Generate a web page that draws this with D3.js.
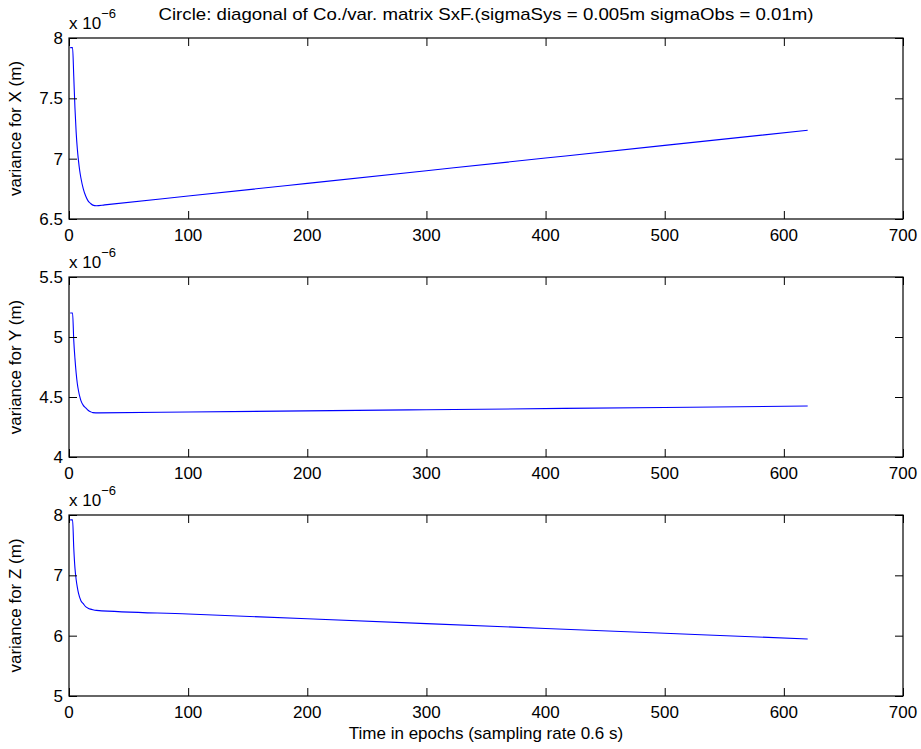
<!DOCTYPE html>
<html lang="en">

<head>
  <meta charset="utf-8">
  <script src="https://d3js.org/d3.v7.min.js"></script>
  <style>
    body {
      margin: 0;
      background: white;
    }

    text {
      font-family: "Liberation Sans", Arial, Helvetica, sans-serif;
      fill: black;
    }

    .tick-label {
      font-size: 17px;
    }

    .title,
    .label {
      font-size: 17px;
    }

    .expo {
      font-size: 17px;
    }
  </style>
</head>

<body>
  <script>
    // data (values in units of 1e-6 m)
    var epochsX = [1, 3, 4, 5, 6, 7, 8, 9, 10, 12, 14, 16, 18, 20, 23, 30, 100, 200, 300, 400, 500, 620];
    var varX = [7.92, 7.92, 7.68, 7.42, 7.22, 7.08, 6.98, 6.90, 6.84, 6.75, 6.69, 6.65, 6.63, 6.615, 6.61, 6.617, 6.69, 6.795, 6.90, 7.005, 7.11, 7.235];

    var epochsY = [1, 3, 4, 5, 6, 7, 8, 9, 10, 12, 14, 16, 18, 20, 25, 100, 300, 500, 620];
    var varY = [5.20, 5.20, 4.97, 4.82, 4.70, 4.61, 4.55, 4.505, 4.47, 4.43, 4.41, 4.39, 4.378, 4.37, 4.368, 4.375, 4.394, 4.413, 4.425];

    var epochsZ = [1, 3, 4, 5, 6, 7, 8, 10, 12, 14, 16, 18, 20, 23, 100, 200, 300, 400, 500, 620];
    var varZ = [7.92, 7.92, 7.45, 7.12, 6.93, 6.80, 6.70, 6.58, 6.53, 6.48, 6.455, 6.44, 6.43, 6.42, 6.36, 6.28, 6.20, 6.12, 6.04, 5.945];

    var xTicks = [0, 100, 200, 300, 400, 500, 600, 700];
    var yTicksX = [6.5, 7, 7.5, 8];
    var yTicksY = [4, 4.5, 5, 5.5];
    var yTicksZ = [5, 6, 7, 8];

    var titleText = "Circle: diagonal of Co./var. matrix SxF.(sigmaSys = 0.005m sigmaObs = 0.01m)";
    var xLabel = "Time in epochs (sampling rate 0.6 s)";

    var w = 921,
      h = 749,
      left = 69,
      right = 903,
      tickLen = 8;

    var panels = [
      { ep: epochsX, val: varX, ticks: yTicksX, top: 38, bottom: 219, label: "variance for X (m)" },
      { ep: epochsY, val: varY, ticks: yTicksY, top: 277, bottom: 457, label: "variance for Y (m)" },
      { ep: epochsZ, val: varZ, ticks: yTicksZ, top: 515, bottom: 696, label: "variance for Z (m)" }
    ];

    var svg = d3.select("body")
      .append("svg")
      .attr("width", w)
      .attr("height", h);

    var x = d3.scaleLinear().domain([0, 700]).range([left, right]);

    panels.forEach(function (p, k) {
      var y = d3.scaleLinear()
        .domain([p.ticks[0], p.ticks[p.ticks.length - 1]])
        .range([p.bottom, p.top]);

      var g = svg.append("g");

      // the line
      var pts = p.ep.map(function (e, i) { return [e, p.val[i]]; });
      g.append("path")
        .datum(pts)
        .attr("fill", "none")
        .attr("stroke", "#0000ff")
        .attr("stroke-width", 1.1)
        .attr("d", d3.line()
          .x(function (d) { return x(d[0]); })
          .y(function (d) { return y(d[1]); })
          .curve(d3.curveMonotoneX));

      // box
      g.append("rect")
        .attr("x", left)
        .attr("y", p.top)
        .attr("width", right - left)
        .attr("height", p.bottom - p.top)
        .attr("fill", "none")
        .attr("stroke", "black")
        .attr("stroke-width", 1.2);

      // axes with inward ticks on both sides
      var bottomAxis = d3.axisBottom(x).tickValues(xTicks).tickSize(-tickLen).tickFormat("");
      var topAxis = d3.axisTop(x).tickValues(xTicks).tickSize(-tickLen).tickFormat("");
      var leftAxis = d3.axisLeft(y).tickValues(p.ticks).tickSize(-tickLen).tickFormat("");
      var rightAxis = d3.axisRight(y).tickValues(p.ticks).tickSize(-tickLen).tickFormat("");

      [
        [bottomAxis, "translate(0," + p.bottom + ")"],
        [topAxis, "translate(0," + p.top + ")"],
        [leftAxis, "translate(" + left + ",0)"],
        [rightAxis, "translate(" + right + ",0)"]
      ].forEach(function (a) {
        var ag = g.append("g").attr("transform", a[1]).call(a[0]);
        ag.select(".domain").remove();
        ag.selectAll("line").attr("stroke", "black").attr("stroke-width", 1);
      });

      // tick labels
      g.selectAll("text.xt")
        .data(xTicks)
        .enter()
        .append("text")
        .attr("class", "tick-label")
        .attr("x", function (d) { return x(d); })
        .attr("y", p.bottom + 22)
        .attr("text-anchor", "middle")
        .text(function (d) { return d; });

      g.selectAll("text.yt")
        .data(p.ticks)
        .enter()
        .append("text")
        .attr("class", "tick-label")
        .attr("x", left - 6)
        .attr("y", function (d) { return y(d) + 6; })
        .attr("text-anchor", "end")
        .text(function (d) { return d; });

      // exponent label
      var ex = g.append("text")
        .attr("class", "expo")
        .attr("x", left)
        .attr("y", p.top - 9);
      ex.append("tspan").text("x 10");
      ex.append("tspan")
        .attr("dy", -11)
        .attr("font-size", "13px")
        .text("\u22126");

      // y label
      g.append("text")
        .attr("class", "label")
        .attr("text-anchor", "middle")
        .attr("transform", "translate(21," + ((p.top + p.bottom) / 2) + ") rotate(-90)")
        .text(p.label);
    });

    svg.append("text")
      .attr("class", "title")
      .attr("x", (left + right) / 2)
      .attr("y", 20)
      .attr("text-anchor", "middle")
      .attr("textLength", 655)
      .attr("lengthAdjust", "spacingAndGlyphs")
      .text(titleText);

    svg.append("text")
      .attr("class", "label")
      .attr("x", (left + right) / 2)
      .attr("y", 739)
      .attr("text-anchor", "middle")
      .text(xLabel);
  </script>

</body>

</html>
